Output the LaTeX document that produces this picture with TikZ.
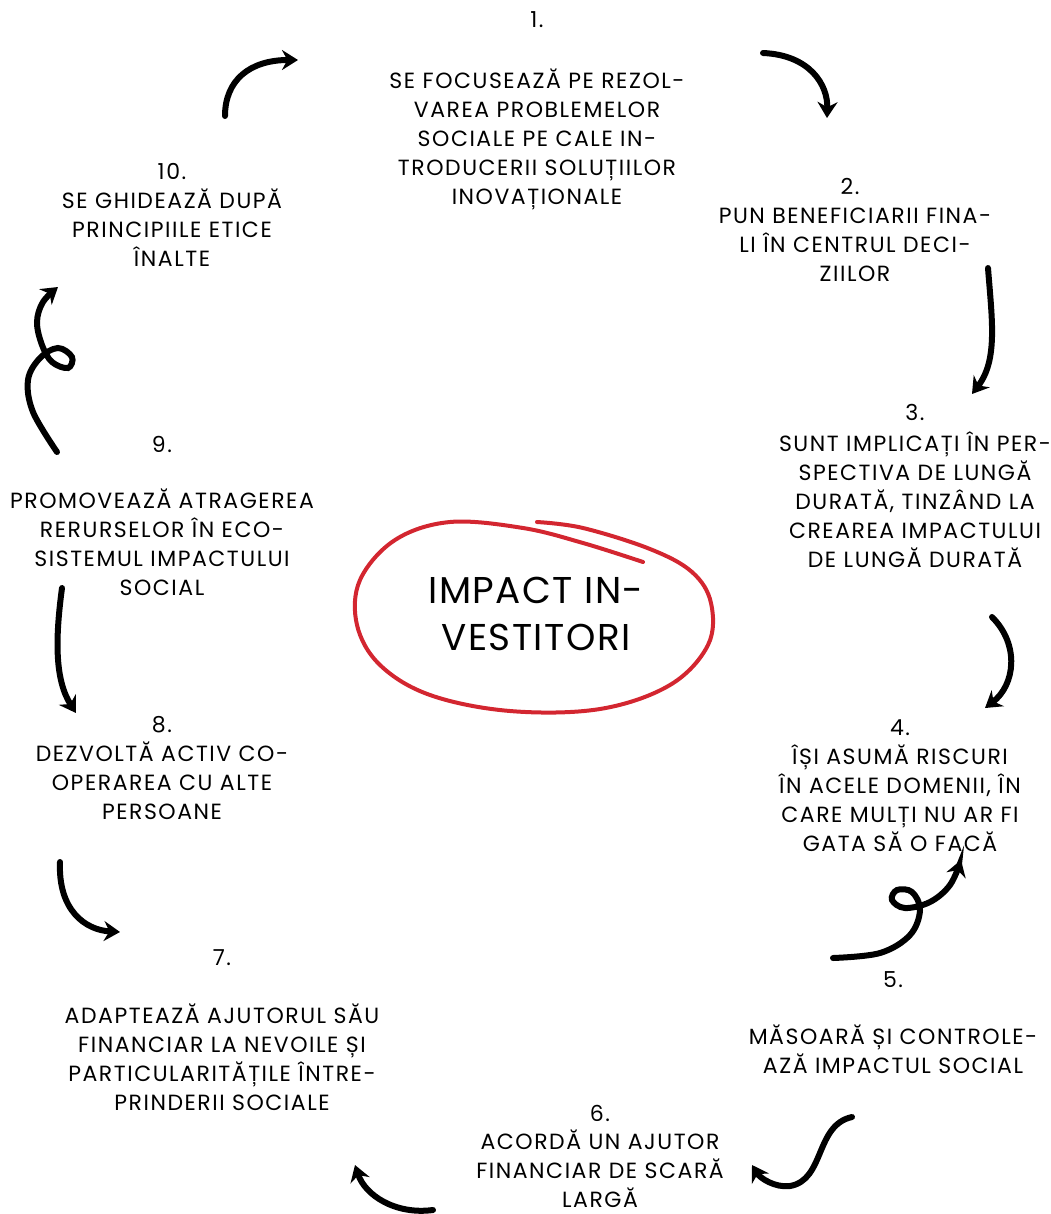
\documentclass[tikz,border=0pt]{standalone}
\usepackage{fontspec}
\setmainfont{Poppins}[LetterSpace=7]
\newfontfamily\titlefont{Poppins}[LetterSpace=4]
\usetikzlibrary{arrows.meta}

\definecolor{inkred}{RGB}{211,38,48}

\tikzset{
  item/.style={inner sep=0pt, font=\fontsize{16.5}{21}\selectfont, text=black},
  title/.style={inner sep=0pt, font=\titlefont\fontsize{28}{34}\selectfont, text=black},
  flow/.style={line width=4.5pt, line cap=round, black,
    -{Stealth[length=12pt, width=15pt, inset=4pt]}},
  ring/.style={line width=3pt, line cap=round, line join=round, inkred}
}

% one centred line per node, baselines 29 units apart
\newcommand\txtblock[4]{%
  \foreach \lineText [count=\k] in {#4} {
    \node[item, anchor=base] (#1-\k) at (#2, #3+29*\k-29) {\lineText};
  }}

\begin{document}
\begin{tikzpicture}[x=0.75pt, y=-0.75pt]
\useasboundingbox (0,0) rectangle (1050,1214);

% ---- centre ----
\node[title, anchor=base] (c1) at (536,603) {IMPACT IN-};
\node[title, anchor=base] (c2) at (536,650) {VESTITORI};
\draw[ring] plot[smooth, tension=0.6] coordinates {
  (643,562) (583,543) (523,528) (450,522) (395,540) (360,580) (357,625)
  (380,665) (430,695) (510,711) (600,709) (670,685) (708,645) (711,603)
  (692,572) (650,549) (583,528) (537,522)};

% ---- numbered statements ----
\node[item, anchor=base] (n1) at (537,27.5) {1.};
\txtblock{b1}{537}{88}{SE FOCUSEAZĂ PE REZOL-, VAREA PROBLEMELOR, SOCIALE PE CALE IN-, TRODUCERII SOLUȚIILOR, INOVAȚIONALE}

\node[item, anchor=base] (n2) at (850,194.5) {2.};
\txtblock{b2}{855}{223.5}{PUN BENEFICIARII FINA-, LI ÎN CENTRUL DECI-, ZIILOR}

\node[item, anchor=base] (n3) at (915,420.5) {3.};
\txtblock{b3}{915}{451.5}{SUNT IMPLICAȚI ÎN PER-, SPECTIVA DE LUNGĂ, {DURATĂ, TINZÂND LA}, CREAREA IMPACTULUI, DE LUNGĂ DURATĂ}

\node[item, anchor=base] (n4) at (900,735.5) {4.};
\txtblock{b4}{900}{764.5}{ÎȘI ASUMĂ RISCURI, {ÎN ACELE DOMENII, ÎN}, CARE MULȚI NU AR FI, GATA SĂ O FACĂ}

\node[item, anchor=base] (n5) at (893,987.5) {5.};
\txtblock{b5}{893}{1044.5}{MĂSOARĂ ȘI CONTROLE-, AZĂ IMPACTUL SOCIAL}

\node[item, anchor=base] (n6) at (600,1121) {6.};
\txtblock{b6}{600}{1149}{ACORDĂ UN AJUTOR, FINANCIAR DE SCARĂ, LARGĂ}

\node[item, anchor=base] (n7) at (222,965.5) {7.};
\txtblock{b7}{222}{1023.5}{ADAPTEAZĂ AJUTORUL SĂU, FINANCIAR LA NEVOILE ȘI, PARTICULARITĂȚILE ÎNTRE-, PRINDERII SOCIALE}

\node[item, anchor=base] (n8) at (162,732.5) {8.};
\txtblock{b8}{162}{761.5}{DEZVOLTĂ ACTIV CO-, OPERAREA CU ALTE, PERSOANE}

\node[item, anchor=base] (n9) at (162,452.5) {9.};
\txtblock{b9}{162}{508.5}{PROMOVEAZĂ ATRAGEREA, RERURSELOR ÎN ECO-, SISTEMUL IMPACTULUI, SOCIAL}

\node[item, anchor=base] (n10) at (172,179.5) {10.};
\txtblock{b10}{172}{208.5}{SE GHIDEAZĂ DUPĂ, PRINCIPIILE ETICE, ÎNALTE}

% ---- arrow end points ----
\coordinate (a1s) at (225,116);  \coordinate (a1e) at (298,60);
\coordinate (a2s) at (763,53);   \coordinate (a2e) at (827,118);
\coordinate (a3s) at (988,268);  \coordinate (a3e) at (972,394);
\coordinate (a4s) at (992,617);  \coordinate (a4e) at (985,708);
\coordinate (a6s) at (852,1117); \coordinate (a6e) at (752,1165);
\coordinate (a7s) at (433,1210); \coordinate (a7e) at (355,1165);
\coordinate (a8s) at (60,862);   \coordinate (a8e) at (120,932);
\coordinate (a9s) at (62,588);   \coordinate (a9e) at (76,713);

% ---- hand-drawn arrows ----
\draw[flow] (a1s) .. controls (225,80) and (250,60) .. (a1e);
\draw[flow] (a2s) .. controls (810,55) and (828,85) .. (a2e);
\draw[flow] (a3s) .. controls (992,320) and (998,360) .. (a3e);
\draw[flow] (a4s) .. controls (1020,645) and (1015,685) .. (a4e);
\draw[flow] plot[smooth, tension=0.6] coordinates {
  (833,958) (880,953) (910,935) (920,910) (912,892) (897,890) (892,900)
  (905,908) (930,902) (950,885) (961,860)};
\draw[flow] (a6s) .. controls (815,1125) and (825,1180) .. (790,1186)
  .. controls (775,1188) and (760,1178) .. (a6e);
\draw[flow] (a7s) .. controls (395,1215) and (365,1195) .. (a7e);
\draw[flow] (a8s) .. controls (58,910) and (85,930) .. (a8e);
\draw[flow] (a9s) .. controls (55,640) and (55,680) .. (a9e);
\draw[flow] plot[smooth, tension=0.6] coordinates {
  (57,452) (33,412) (28,380) (40,358) (58,348) (72,357) (68,368) (52,362)
  (42,345) (37,322) (43,302) (58,287)};
\end{tikzpicture}
\end{document}
